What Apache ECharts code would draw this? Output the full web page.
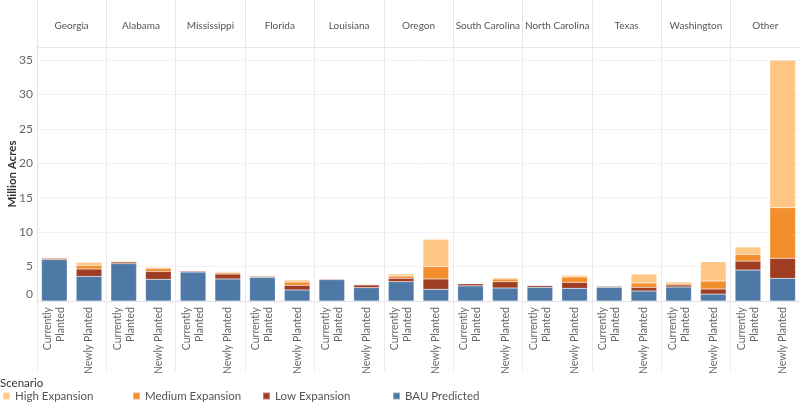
<!DOCTYPE html>
<html>
<head>
<meta charset="utf-8">
<script src="https://cdn.jsdelivr.net/npm/echarts@6/dist/echarts.min.js"></script>
<style>html,body{margin:0;padding:0;background:#fff}#c{width:800px;height:403px}</style>
</head>
<body>
<div id="c"></div>
<script>
const states = ['Georgia','Alabama','Mississippi','Florida','Louisiana','Oregon','South Carolina','North Carolina','Texas','Washington','Other'];
const plantings = ['Currently Planted','Newly Planted'];
// values per state: [Currently, Newly] for each state, in order
const bau    = [6.0,3.58, 5.43,3.15, 4.21,3.2, 3.44,1.6, 3.1,1.94, 2.81,1.7, 2.2,1.89, 2.0,1.84, 2.0,1.45, 2.03,1.0, 4.5,3.3];
const low    = [0.2,1.07, 0.24,1.16, 0.15,0.72, 0.14,0.68, 0.12,0.39, 0.49,1.5, 0.3,0.92, 0.25,0.87, 0.15,0.54, 0.3,0.74, 1.3,2.9];
const medium = [0.1,0.53, 0.1,0.44, 0.06,0.19, 0.1,0.48, 0.05,0.1, 0.33,1.79, 0.07,0.39, 0.05,0.78, 0.03,0.63, 0.24,1.16, 0.97,7.36];
const high   = [0.05,0.44, 0.04,0.14, 0.04,0.15, 0.05,0.29, 0.03,0.04, 0.29,3.98, 0.05,0.19, 0.03,0.24, 0.02,1.3, 0.2,2.8, 1.07,21.4];
const yTicks = [0,5,10,15,20,25,30,35];
const yName = 'Million Acres';

const cats = [];
states.forEach(s => plantings.forEach(p => cats.push(s + '|' + p)));

const FONT = 'Lato';
const colors = {high:'#ffc685', medium:'#f28e2b', low:'#9e3d22', bau:'#4e79a7'};
const even = (i) => i % 2 === 0;

const chart = echarts.init(document.getElementById('c'));
const mk = (name, data, color) => ({
  name, type:'bar', stack:'s', data, barWidth:'74%',
  itemStyle:{color, borderColor:'rgba(255,255,255,0.35)', borderWidth:0.5},
  xAxisIndex:0, yAxisIndex:0
});
const legendAt = (name, left) => ({
  data:[name], left, top:390, padding:0, icon:'rect', itemWidth:7, itemHeight:7, itemGap:6,
  textStyle:{fontFamily:FONT, fontSize:11.5, color:'#555'}, selectedMode:false
});
chart.setOption({
  animation:false,
  textStyle:{fontFamily:FONT},
  title:{text:'Scenario', left:0, top:377, padding:0, textStyle:{fontFamily:FONT, fontSize:11.5, fontWeight:'normal', color:'#333'}},
  legend:[legendAt('High Expansion',2), legendAt('Medium Expansion',132), legendAt('Low Expansion',262), legendAt('BAU Predicted',392)],
  graphic:[{type:'text', x:12, y:174, rotation:Math.PI/2,
    style:{text:yName, align:'center', verticalAlign:'middle', fontFamily:FONT, fontSize:11.5, fontWeight:'bold', fill:'#333'}}],
  grid:[
    {left:37, right:0, top:47, bottom:102, outerBoundsMode:'none', containLabel:false},
    {left:37, right:0, top:0, height:47, outerBoundsMode:'none', containLabel:false}
  ],
  xAxis:[
    {type:'category', gridIndex:0, data:cats,
      axisLine:{show:true, lineStyle:{color:'#e3e3e3'}},
      axisTick:{show:true, interval:(i)=>even(i), length:70, lineStyle:{color:'#ebebeb'}},
      splitLine:{show:true, interval:(i)=>even(i), lineStyle:{color:'#ebebeb'}},
      axisLabel:{interval:0, rotate:90, fontSize:10.5, color:'#666', margin:6, lineHeight:13,
        formatter:(v)=> v.split('|')[1] === 'Currently Planted' ? 'Currently\nPlanted' : 'Newly Planted'}
    },
    {type:'category', gridIndex:1, data:states, position:'bottom',
      axisLine:{show:true, lineStyle:{color:'#e6e6e6'}},
      axisTick:{show:true, inside:true, length:47, interval:0, lineStyle:{color:'#e6e6e6'}},
      axisLabel:{inside:true, interval:0, margin:16, fontSize:10, color:'#555'}
    }
  ],
  yAxis:[
    {type:'value', gridIndex:0, min:0, max:36.9, interval:5,
      axisLine:{show:true, lineStyle:{color:'#e3e3e3'}},
      axisTick:{show:false},
      splitLine:{show:true, lineStyle:{color:'#f2f2f2'}},
      axisLabel:{showMaxLabel:false, fontSize:12, color:'#666', margin:4,
        formatter:(v)=> yTicks.includes(v) ? (v === 0 ? '{z|0}' : String(v)) : '',
        rich:{z:{fontSize:12, color:'#666', padding:[0,0,14,0]}}}
    },
    {type:'value', gridIndex:1, show:false}
  ],
  series:[
    mk('BAU Predicted', bau, colors.bau),
    mk('Low Expansion', low, colors.low),
    mk('Medium Expansion', medium, colors.medium),
    mk('High Expansion', high, colors.high)
  ]
});
</script>
</body>
</html>
